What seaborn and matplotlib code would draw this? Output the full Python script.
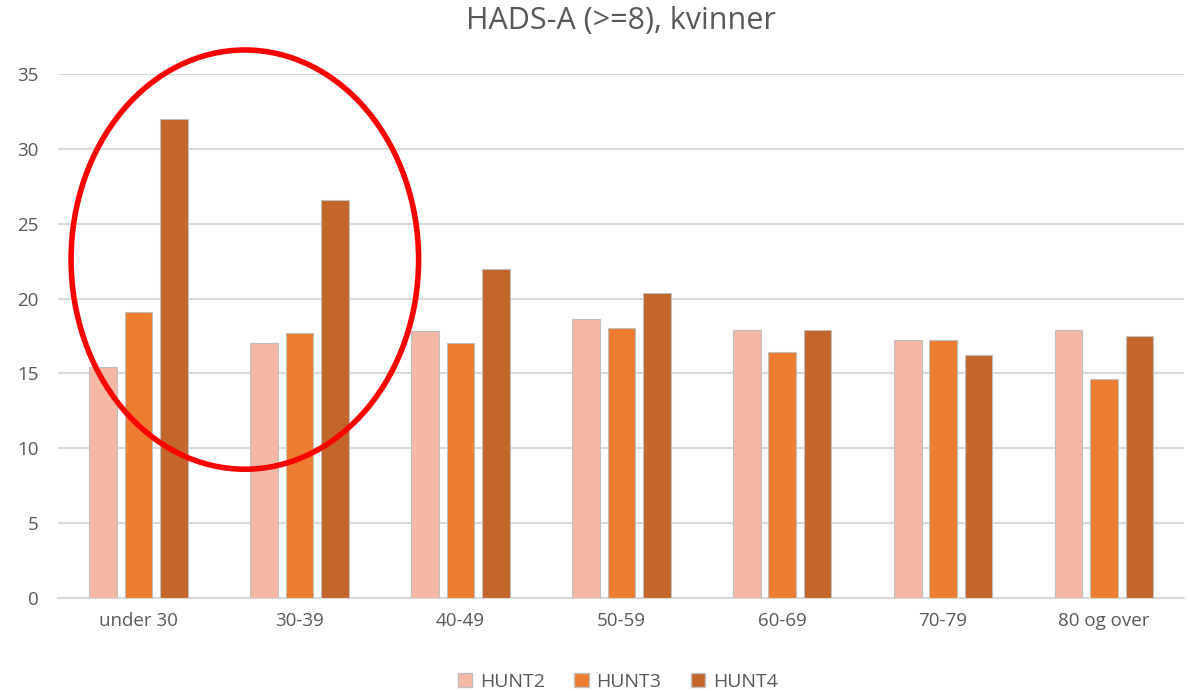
import matplotlib
matplotlib.use("Agg")
import matplotlib.pyplot as plt
import seaborn as sns
import pandas as pd
from matplotlib.patches import Ellipse, Patch

categories = ["under 30", "30-39", "40-49", "50-59", "60-69", "70-79", "80 og over"]
series = ["HUNT2", "HUNT3", "HUNT4"]
hunt2 = [15.4, 17.0, 17.8, 18.6, 17.9, 17.2, 17.9]
hunt3 = [19.1, 17.7, 17.0, 18.0, 16.4, 17.2, 14.6]
hunt4 = [32.0, 26.6, 22.0, 20.4, 17.9, 16.2, 17.5]
yticks = [0, 5, 10, 15, 20, 25, 30, 35]

colors = ["#F4B8A4", "#ED7D31", "#C4652A"]

rows = []
for s, vals in zip(series, [hunt2, hunt3, hunt4]):
    for c, v in zip(categories, vals):
        rows.append({"cat": c, "series": s, "value": v})
df = pd.DataFrame(rows)

sns.set_style("white")
plt.rcParams['font.family'] = ['Open Sans', 'DejaVu Sans']

fig = plt.figure(figsize=(11.88, 6.91), dpi=100)
ax = fig.add_axes([0.049, 0.1346, 0.948, 0.7584])

sns.barplot(data=df, x="cat", y="value", hue="series", order=categories,
            hue_order=series, palette=colors, saturation=1, width=0.66, gap=0.22,
            edgecolor="#BFBFBF", linewidth=0.8, ax=ax, legend=False, zorder=3)

ax.set_ylim(0, 35)
ax.set_xlim(-0.5, len(categories) - 0.5)
ax.set_yticks(yticks)
ax.yaxis.grid(True, color="#D9D9D9", linewidth=1.5, zorder=0)
ax.set_axisbelow(True)
for sp in ["top", "right", "left"]:
    ax.spines[sp].set_visible(False)
ax.spines["bottom"].set_color("#D9D9D9")
ax.spines["bottom"].set_linewidth(1.5)
ax.tick_params(axis="both", length=0, labelsize=13.5, labelcolor="#595959", pad=10)
ax.tick_params(axis="y", pad=14)
ax.set_xlabel("")
ax.set_ylabel("")
ax.set_title("HADS-A (>=8), kvinner", fontsize=22, color="#595959", pad=32)

ell = Ellipse((0.66, 22.6), 2.16, 28.0, fill=False, edgecolor="#FF0000",
              linewidth=4, clip_on=False, zorder=5)
ax.add_patch(ell)

handles = [Patch(facecolor=c, edgecolor="#BFBFBF", label=s) for c, s in zip(colors, series)]
fig.legend(handles=handles, loc="lower center", bbox_to_anchor=(0.52, -0.025), ncol=3,
           frameon=False, fontsize=14, labelcolor="#595959", handlelength=0.75,
           handleheight=0.75, handletextpad=0.4, columnspacing=1.5)

fig.savefig("out.png", dpi=100)
